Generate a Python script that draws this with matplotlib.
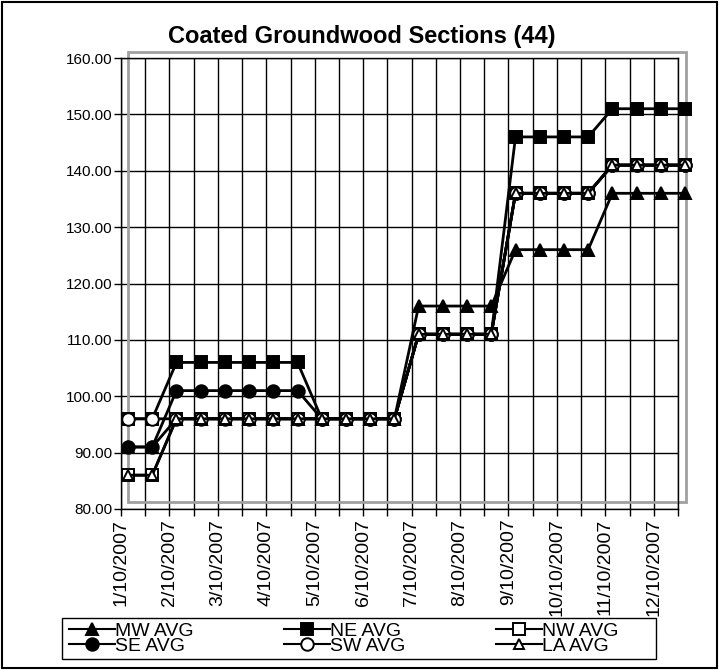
import matplotlib
matplotlib.use("Agg")
import matplotlib.pyplot as plt
import numpy as np
from matplotlib.patches import Rectangle

plt.rcParams['font.family'] = ['Liberation Sans', 'DejaVu Sans']

month_labels = ['1/10/2007', '2/10/2007', '3/10/2007', '4/10/2007', '5/10/2007',
                '6/10/2007', '7/10/2007', '8/10/2007', '9/10/2007', '10/10/2007',
                '11/10/2007', '12/10/2007']

mw_avg = [91, 91, 96, 96, 96, 96, 96, 96, 96, 96, 96, 96,
          116, 116, 116, 116, 126, 126, 126, 126, 136, 136, 136, 136]
ne_avg = [96, 96, 106, 106, 106, 106, 106, 106, 96, 96, 96, 96,
          111, 111, 111, 111, 146, 146, 146, 146, 151, 151, 151, 151]
nw_avg = [86, 86, 96, 96, 96, 96, 96, 96, 96, 96, 96, 96,
          111, 111, 111, 111, 136, 136, 136, 136, 141, 141, 141, 141]
se_avg = [91, 91, 101, 101, 101, 101, 101, 101, 96, 96, 96, 96,
          111, 111, 111, 111, 136, 136, 136, 136, 141, 141, 141, 141]
sw_avg = [96, 96, 96, 96, 96, 96, 96, 96, 96, 96, 96, 96,
          111, 111, 111, 111, 136, 136, 136, 136, 141, 141, 141, 141]
la_avg = [86, 86, 96, 96, 96, 96, 96, 96, 96, 96, 96, 96,
          111, 111, 111, 111, 136, 136, 136, 136, 141, 141, 141, 141]

series = [
    ('MW AVG', mw_avg, '^', 'black', 9),
    ('NE AVG', ne_avg, 's', 'black', 9),
    ('NW AVG', nw_avg, 's', 'white', 9),
    ('SE AVG', se_avg, 'o', 'black', 9),
    ('SW AVG', sw_avg, 'o', 'white', 9),
    ('LA AVG', la_avg, '^', 'white', 7),
]

W, H = 719, 670
fig = plt.figure(figsize=(W / 100, H / 100), dpi=100)
ax_l, ax_r, ax_t, ax_b = 121, 678, 58, 509
ax = fig.add_axes([ax_l / W, 1 - ax_b / H, (ax_r - ax_l) / W, (ax_b - ax_t) / H])

n = len(mw_avg)
x = np.arange(n)
offset = 0.29  # markers sit a little right of each tick

handles = {}
for i, (name, vals, mk, face, ms) in enumerate(series):
    h, = ax.plot(x, vals, color='black', lw=2.0, marker=mk, markersize=ms,
                 markerfacecolor=face, markeredgecolor='black', markeredgewidth=1.4,
                 label=name, zorder=3 + i, clip_on=False)
    handles[name] = h

ticks = x - offset
ax.set_xlim(ticks[0], ticks[-1])
ax.set_xticks(ticks)
ax.set_xticklabels([month_labels[k // 2] if k % 2 == 0 else '' for k in range(n)],
                   rotation=90, fontsize=14)
ax.set_ylim(80, 160)
yt = np.arange(80, 161, 10)
ax.set_yticks(yt)
ax.set_yticklabels([f'{v:.2f}' for v in yt], fontsize=11)
ax.tick_params(axis='both', direction='out', length=5, width=1, color='black', pad=2)
ax.tick_params(axis='y', pad=1)
ax.grid(True, color='black', lw=1)
ax.set_axisbelow(True)
for s in ax.spines.values():
    s.set_color('black')
    s.set_linewidth(1)

# grey plot-area frame (offset)
ax.add_patch(Rectangle((128, H - 502), 686 - 128, 502 - 52, transform=None,
                       fill=False, edgecolor='#a0a0a0', lw=2, zorder=1.5, clip_on=False))

fig.text(362 / W, 1 - 37 / H, 'Coated Groundwood Sections (44)',
         ha='center', va='center', fontsize=17, fontweight='bold')

# legend box (white, covers the ends of long tick labels)
box = Rectangle((62 / W, 1 - 659 / H), (656 - 62) / W, (659 - 618) / H,
                transform=fig.transFigure, facecolor='white',
                edgecolor='black', lw=1, zorder=4)
fig.patches.append(box)

# legend: row-wise order MW, NE, NW / SE, SW, LA (matplotlib fills by column)
order = ['MW AVG', 'SE AVG', 'NE AVG', 'SW AVG', 'NW AVG', 'LA AVG']
leg = fig.legend([handles[k] for k in order], order,
                 loc='upper left', bbox_to_anchor=(69 / W, 1 - 622 / H),
                 bbox_transform=fig.transFigure, ncol=3, fontsize=14,
                 frameon=False, handlelength=2.37, handletextpad=0.0,
                 columnspacing=4.65, labelspacing=-0.1, borderpad=0.0,
                 borderaxespad=0)
leg.set_zorder(5)
for ln in leg.get_lines():
    ln.set_linewidth(1.5)

# outer figure border
fig.patches.append(Rectangle((1.5 / W, 2.5 / H), (W - 4) / W, (H - 4) / H,
                             transform=fig.transFigure, fill=False,
                             edgecolor='black', lw=1.5, zorder=6))

fig.savefig('out.png', dpi=100)
